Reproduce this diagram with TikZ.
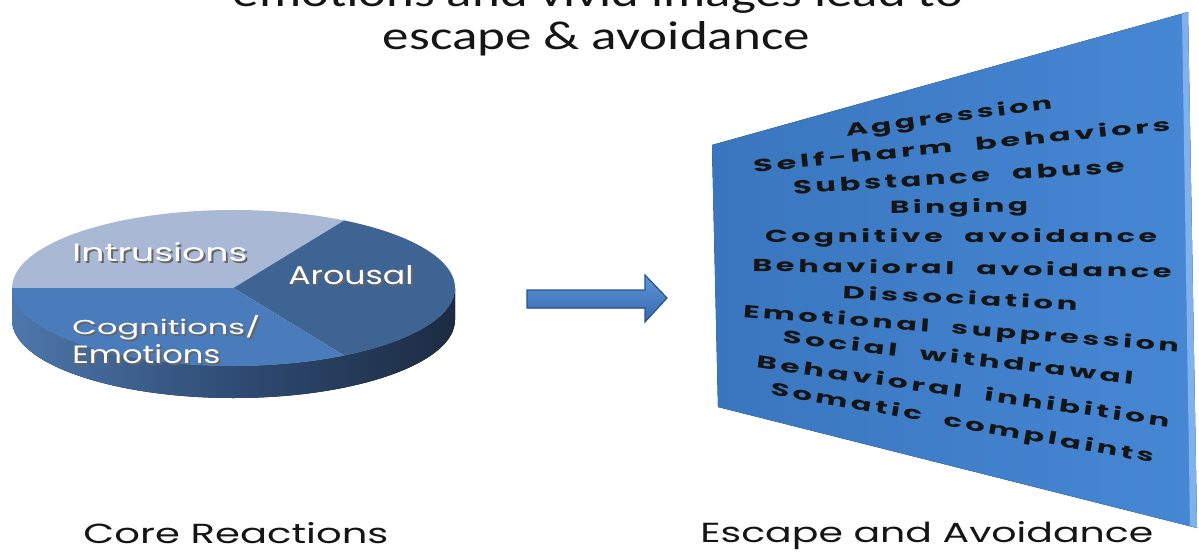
\documentclass[tikz,border=0pt]{standalone}
\usepackage{fontspec}
\usepackage{graphicx}
\newfontfamily\titlefont{Carlito}
\newfontfamily\comicfont{Poppins}
\newfontfamily\panelfont[LetterSpace=12,WordSpace=2.2]{Poppins}
\newlength{\pxu}\setlength{\pxu}{0.5pt}
\newcommand{\fitbox}[3]{\resizebox{#1\pxu}{#2\pxu}{\vphantom{Ahg}#3}}
\newcommand{\shadowtext}[1]{\makebox[0pt][l]{\kern1pt\raisebox{-1pt}{\color{black!60}#1}}{\color{white}#1}}
\definecolor{intrC}{HTML}{A9B8D5}
\definecolor{arouC}{HTML}{3E6494}
\definecolor{cognC}{HTML}{4A7BBA}
\definecolor{sideL}{HTML}{4E77AC}
\definecolor{sideM}{HTML}{2F4C74}
\definecolor{sideR}{HTML}{1C2B42}
\definecolor{arrT}{HTML}{5D95D8}
\definecolor{arrB}{HTML}{3669AE}
\definecolor{panelL}{HTML}{3A76BF}
\definecolor{panelR}{HTML}{4687D4}
\definecolor{bevelC}{HTML}{7DB2EE}
\definecolor{inkC}{HTML}{151515}
\tikzset{
  titletext/.style={inner sep=0pt, anchor=base, text=inkC, font=\titlefont},
  pielabel/.style={inner sep=0pt, anchor=base west, font=\comicfont},
  bottomlabel/.style={inner sep=0pt, anchor=base west, text=inkC, font=\comicfont},
  paneltext/.style={inner sep=0pt, anchor=center, text=inkC, font=\panelfont\bfseries},
}
\begin{document}
\begin{tikzpicture}[x=0.5pt,y=-0.5pt]
\clip (0,0) rectangle (1199,552);
\fill[white] (0,0) rectangle (1199,552);

% title
\node[titletext] (t1) at (598,6) {\fitbox{730}{28}{emotions and vivid images lead to}};
\node[titletext] (t2) at (596.5,49) {\fitbox{427}{28}{escape \& avoidance}};

% pie
\coordinate (pc) at (233.5,288);
\fill[left color=sideL, right color=sideR, middle color=sideM]
  (12,288) arc[start angle=180, end angle=0, x radius=221.5, y radius=78]
  -- (455,320) arc[start angle=0, end angle=180, x radius=221.5, y radius=78] -- cycle;
\fill[intrC] (pc) -- +(-60:221.5 and 78) arc[start angle=-60, end angle=-180, x radius=221.5, y radius=78] -- cycle;
\fill[arouC] (pc) -- +(60:221.5 and 78) arc[start angle=60, end angle=-60, x radius=221.5, y radius=78] -- cycle;
\fill[cognC] (pc) -- +(180:221.5 and 78) arc[start angle=180, end angle=60, x radius=221.5, y radius=78] -- cycle;

\node[pielabel] (intr) at (72,261) {\shadowtext{\fitbox{175}{19}{Intrusions}}};
\node[pielabel] (arou) at (288,284) {\shadowtext{\fitbox{125}{19}{Arousal}}};
\node[pielabel] (cogn) at (72,334) {\shadowtext{\fitbox{188}{19}{Cognitions/}}};
\node[pielabel] (emot) at (72,363) {\shadowtext{\fitbox{148}{19}{Emotions}}};

% block arrow
\fill[top color=arrT, bottom color=arrB, draw=arrB!80!black, line width=0.6pt]
  (527,290) -- (645,290) -- (645,275) -- (667,298) -- (645,322) -- (645,308) -- (527,308) -- cycle;

% panel
\coordinate (ptl) at (712,145);
\coordinate (ptr) at (1188,12);
\coordinate (pbr) at (1197,528);
\coordinate (pbl) at (718,407);
\fill[left color=panelL, right color=panelR] (ptl) -- (ptr) -- (pbr) -- (pbl) -- cycle;
\fill[bevelC] (1182,14) -- (ptr) -- (pbr) -- (1190,526) -- cycle;

\node[paneltext, rotate=7.7]  (p1)  at (949,118) {\fitbox{208}{14}{Aggression}};
\node[paneltext, rotate=5.7]  (p2)  at (962,147) {\fitbox{419}{14}{Self-harm behaviors}};
\node[paneltext, rotate=3.7]  (p3)  at (959,179) {\fitbox{332}{14}{Substance abuse}};
\node[paneltext, rotate=1]    (p4)  at (959,208) {\fitbox{138}{14}{Binging}};
\node[paneltext, rotate=0]    (p5)  at (961,238) {\fitbox{392}{14}{Cognitive avoidance}};
\node[paneltext, rotate=-0.9] (p6)  at (962,270) {\fitbox{419}{14}{Behavioral avoidance}};
\node[paneltext, rotate=-2.8] (p7)  at (960,300) {\fitbox{235}{14}{Dissociation}};
\node[paneltext, rotate=-4.6] (p8)  at (961,330) {\fitbox{437}{14}{Emotional suppression}};
\node[paneltext, rotate=-6.7] (p9)  at (958,359) {\fitbox{353}{14}{Social withdrawal}};
\node[paneltext, rotate=-8.2] (p10) at (963,393) {\fitbox{417}{14}{Behavioral inhibition}};
\node[paneltext, rotate=-10.2](p11) at (962,424) {\fitbox{389}{14}{Somatic complaints}};

% bottom labels
\node[bottomlabel] (core) at (83,543) {\fitbox{305}{21}{Core Reactions}};
\node[bottomlabel] (esc) at (700,542) {\fitbox{453}{21}{Escape and Avoidance}};
\end{tikzpicture}
\end{document}
